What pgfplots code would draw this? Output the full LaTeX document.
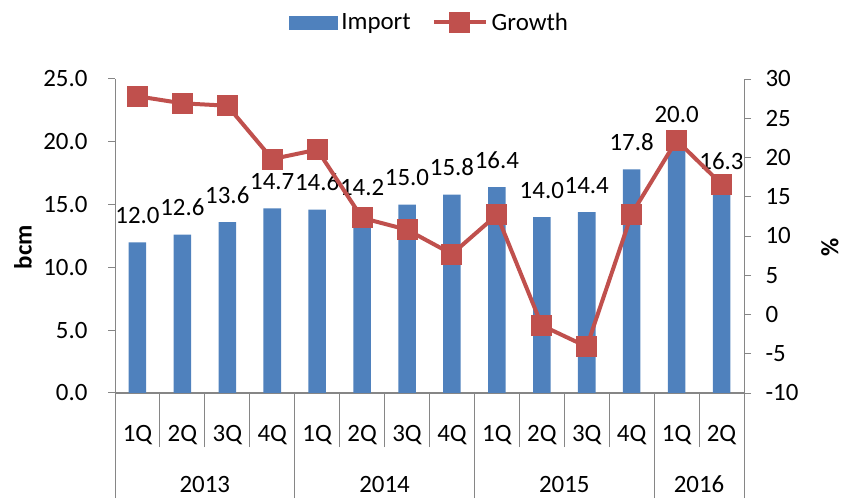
\documentclass[border=0pt]{standalone}
\usepackage{pgfplots}
\pgfplotsset{compat=1.18}
\usepackage{fontspec}
\setmainfont{Carlito}
\definecolor{barblue}{HTML}{4F81BD}
\definecolor{linered}{HTML}{C0504D}
\definecolor{axgray}{HTML}{868686}
\pgfplotsset{
  longline/.style={legend image code/.code={\draw[mark repeat=2,mark phase=2,##1] plot coordinates {(0bp,0bp) (26bp,0bp) (52bp,0bp)};}},
  barbox/.style={legend image code/.code={\fill[barblue] (0bp,-6.5bp) rectangle (48bp,6.5bp);}}
}
\begin{document}
\begin{tikzpicture}[font=\fontsize{25}{30}\selectfont]
\path (0,0) rectangle (844bp,499bp);
\pgfplotsset{
  base/.style={at={(115bp,106bp)}, anchor=south west, width=629bp, height=314bp,
    scale only axis, xmin=-0.5, xmax=13.5, tick align=outside, major tick length=7bp,
    axis line style={axgray, line width=1bp},
    every tick/.style={axgray, line width=1bp},
    major x tick style={draw=none},
    /pgf/number format/assume math mode=true, clip=false}
}
\begin{axis}[base, axis x line*=bottom, axis y line*=left,
  ymin=0, ymax=25, ytick={0,5,...,25},
  yticklabel style={/pgf/number format/.cd, fixed, fixed zerofill, precision=1, /tikz/.cd, xshift=-17bp},
  xtick={0,...,13},
  xticklabels={1Q,2Q,3Q,4Q,1Q,2Q,3Q,4Q,1Q,2Q,3Q,4Q,1Q,2Q},
  xticklabel style={anchor=base, yshift=-41bp},
  minor xtick={0.5,1.5,2.5,4.5,5.5,6.5,8.5,9.5,10.5,12.5}, minor tick length=54bp,
  ybar, bar width=0.39,
  nodes near coords={\pgfmathprintnumber[fixed,fixed zerofill,precision=1,assume math mode=true]{\pgfplotspointmeta}},
  nodes near coords style={anchor=base, yshift=19bp, inner sep=0pt, black},
  ylabel={\bfseries bcm}, ylabel style={at={(axis description cs:-0.1463,0.465)}, anchor=center}]
\addplot[fill=barblue, draw=none] coordinates {
(0,12.0) (1,12.6) (2,13.6) (3,14.7) (4,14.6) (5,14.2) (6,15.0)
(7,15.8) (8,16.4) (9,14.0) (10,14.4) (11,17.8) (12,20.0) (13,16.3)};
\end{axis}
\begin{axis}[base, axis x line*=bottom, axis y line*=right,
  ymin=-10, ymax=30, ytick={-10,-5,...,30},
  yticklabel style={xshift=11bp},
  xtick={1.5,5.5,9.5,12.5}, xticklabels={2013,2014,2015,2016},
  xticklabel style={anchor=base, yshift=-92bp},
  minor xtick={-0.5,3.5,7.5,11.5,13.5}, minor tick length=105bp,
  ylabel={\bfseries\%}, ylabel style={at={(axis description cs:1.1367,0.465)}, anchor=center},
  legend style={draw=none, fill=none, at={(axis description cs:0.500,1.18)}, anchor=center,
    legend columns=2, /tikz/every odd column/.append style={column sep=2bp},
    /tikz/every even column/.append style={column sep=19bp}},
  legend cell align=left]
\addlegendimage{barbox}
\addlegendentry{Import}
\addplot[linered, line width=4bp, mark=square*, mark size=10bp,
  mark options={fill=linered, draw=linered, line width=1bp}, longline]
 coordinates {
(0,27.8) (1,26.9) (2,26.6) (3,19.8) (4,21.0) (5,12.3) (6,10.8)
(7,7.7) (8,12.7) (9,-1.4) (10,-4.1) (11,12.8) (12,22.2) (13,16.6)};
\addlegendentry{Growth}
\end{axis}
\end{tikzpicture}
\end{document}
